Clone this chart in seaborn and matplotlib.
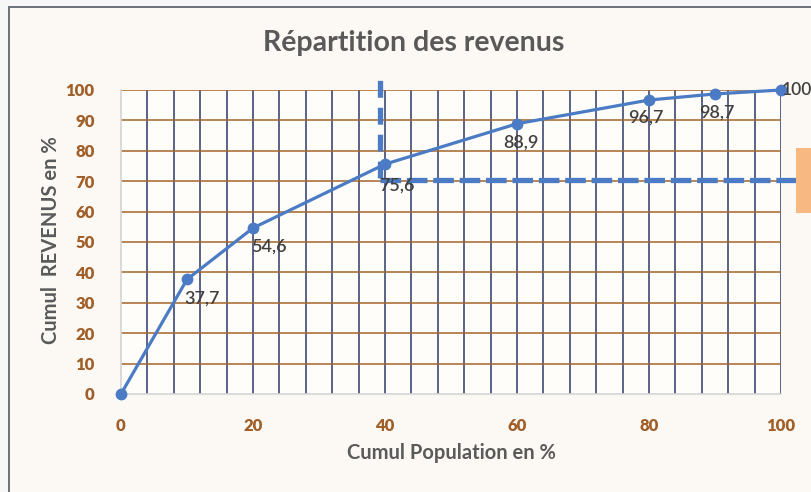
import matplotlib
matplotlib.use("Agg")
import matplotlib.pyplot as plt
from matplotlib.patches import Rectangle
import seaborn as sns
import pandas as pd
import numpy as np

# ---- data ----
population = [0, 10, 20, 40, 60, 80, 90, 100]
revenus = [0, 37.7, 54.6, 75.6, 88.9, 96.7, 98.7, 100]
labels = ["", "37,7", "54,6", "75,6", "88,9", "96,7", "98,7", "100"]
x_ticks = [0, 20, 40, 60, 80, 100]
y_ticks = [0, 10, 20, 30, 40, 50, 60, 70, 80, 90, 100]
title = "Répartition des revenus"
xlabel = "Cumul Population en %"
ylabel = "Cumul  REVENUS en %"
ref_x = 39.2
ref_y = 70.5

df = pd.DataFrame({"pop": population, "rev": revenus})

sns.set_theme(style="white")
plt.rcParams["font.family"] = ["Lato", "DejaVu Sans"]

W, H = 812, 492
fig = plt.figure(figsize=(W / 100, H / 100), dpi=100)
fig.patch.set_facecolor("#f7f7f7")
# chart area frame
frame = Rectangle((9 / W, -0.05), 1.1, (H - 7) / H + 0.05,
                  transform=fig.transFigure, facecolor="#fcf9f4",
                  edgecolor="#5f6670", linewidth=1.3, zorder=-10)
fig.add_artist(frame)

ax = fig.add_axes([121 / W, (H - 394) / H, (781 - 121) / W, (394 - 90) / H])
ax.set_zorder(1)
ax.set_facecolor("#fffdf9")

# grid
for gx in np.arange(4, 101, 4):
    ax.axvline(gx, color="#2c3a6a", linewidth=1.1, zorder=1)
for gy in y_ticks[1:]:
    ax.axhline(gy, color="#a3642a", linewidth=1.1, zorder=1)

blue = "#4a7bc4"
sns.lineplot(data=df, x="pop", y="rev", ax=ax, color=blue, linewidth=2.3,
             marker="o", markersize=8.5, markeredgewidth=0, zorder=4, clip_on=False)

ax.set_xlim(0, 100)
ax.set_ylim(0, 100)
ax.set_xticks(x_ticks)
ax.set_yticks(y_ticks)
tick_color = "#a05f28"
ax.tick_params(axis="both", length=0, labelsize=12, labelcolor=tick_color)
ax.tick_params(axis="x", pad=17)
ax.tick_params(axis="y", pad=19)
for lab in ax.get_xticklabels() + ax.get_yticklabels():
    lab.set_fontweight("heavy")

for s in ["top", "right"]:
    ax.spines[s].set_visible(False)
for s in ["left", "bottom"]:
    ax.spines[s].set_color("#d4d4d4")
    ax.spines[s].set_linewidth(1.2)

ax.set_xlabel("")
ax.set_ylabel("")
fig.text(451 / W, 1 - 453 / H, xlabel, ha="center", va="center",
         fontsize=14.5, fontweight="bold", color="#5a5a5a")
fig.text(51 / W, 1 - 240 / H, ylabel, ha="center", va="center", rotation=90,
         fontsize=14.5, fontweight="bold", color="#5a5a5a")
fig.text(414 / W, 1 - 43 / H, title, ha="center", va="center",
         fontsize=20.5, fontweight="bold", color="#595959")

# data labels
offsets = {1: (15, -11), 2: (16, -11), 3: (12, -13), 4: (4, -11), 5: (-3, -10), 6: (2, -11)}
for i, (x, y, t) in enumerate(zip(population, revenus, labels)):
    if not t:
        continue
    if i == len(population) - 1:
        ax.annotate(t, (x, y), xytext=(1, 0), textcoords="offset pixels",
                    ha="left", va="center", fontsize=12.5, fontweight="semibold",
                    color="#404040", annotation_clip=False, zorder=6)
    else:
        dx, dy = offsets.get(i, (0, -11))
        ax.annotate(t, (x, y), xytext=(dx, dy), textcoords="offset pixels",
                    ha="center", va="top", fontsize=13, fontweight="semibold",
                    color="#404040", annotation_clip=False, zorder=6)

# reference dashed lines
ax.plot([ref_x, ref_x], [71, 103.5], color=blue, linewidth=3.8,
        linestyle=(0, (3.2, 1.9)), clip_on=False, zorder=5)
ax.plot([ref_x, 102.2], [ref_y, ref_y], color=blue, linewidth=3.8,
        linestyle=(0, (3.9, 1.1)), clip_on=False, zorder=5)

# orange box at right edge (cut off)
box = Rectangle((796 / W, 1 - 213 / H), 0.1, 65 / H,
                transform=fig.transFigure, facecolor="#f8b882",
                edgecolor="none", zorder=10)
fig.add_artist(box)

fig.savefig("out.png", dpi=100, facecolor=fig.get_facecolor())
